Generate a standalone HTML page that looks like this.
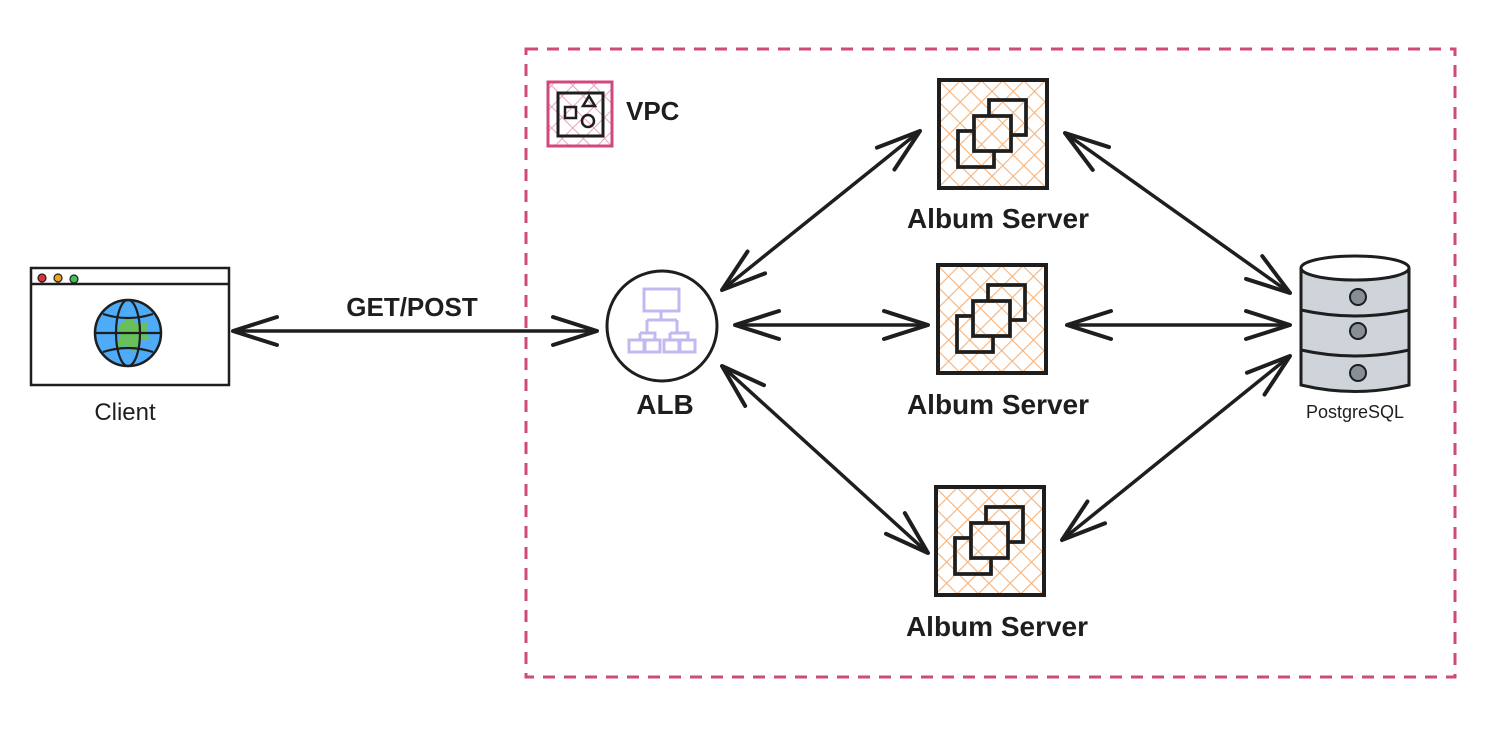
<!DOCTYPE html>
<html><head><meta charset="utf-8"><style>
html,body{margin:0;padding:0;background:#fff;width:1500px;height:730px;overflow:hidden}
text{font-family:"Liberation Sans",sans-serif;fill:#1e1e1e}
</style></head><body>
<svg width="1500" height="730" viewBox="0 0 1500 730" xmlns="http://www.w3.org/2000/svg">
<defs>
<pattern id="ho" width="15" height="15" patternUnits="userSpaceOnUse" patternTransform="rotate(45)">
<line x1="0" y1="0" x2="0" y2="15" stroke="#f5b27a" stroke-width="2.2"/>
<line x1="0" y1="0" x2="15" y2="0" stroke="#f5b27a" stroke-width="2.2"/>
</pattern>
<pattern id="hp" width="15" height="15" patternUnits="userSpaceOnUse" patternTransform="rotate(45)">
<line x1="0" y1="0" x2="0" y2="15" stroke="#e8a3bd" stroke-width="2"/>
<line x1="0" y1="0" x2="15" y2="0" stroke="#e8a3bd" stroke-width="2"/>
</pattern>
<marker id="a" markerUnits="userSpaceOnUse" markerWidth="55" markerHeight="50" refX="0" refY="0" viewBox="-50 -25 55 50" orient="auto-start-reverse">
<path d="M-44,-14 L0,0 L-44,14" fill="none" stroke="#1e1e1e" stroke-width="4" stroke-linecap="round" stroke-linejoin="round"/>
</marker>
<g id="srv">
<rect x="0" y="0" width="108" height="108" fill="#fff"/>
<rect x="0" y="0" width="108" height="108" fill="url(#ho)" stroke="#1e1e1e" stroke-width="4"/>
<rect x="50" y="20" width="37" height="35" fill="#fff" stroke="#1e1e1e" stroke-width="3.5"/>
<rect x="50" y="20" width="37" height="35" fill="url(#ho)" stroke="#1e1e1e" stroke-width="3.5"/>
<rect x="19" y="51" width="36" height="36" fill="#fff" stroke="#1e1e1e" stroke-width="3.5"/>
<rect x="19" y="51" width="36" height="36" fill="url(#ho)" stroke="#1e1e1e" stroke-width="3.5"/>
<rect x="35" y="36" width="37" height="35" fill="#fff" stroke="#1e1e1e" stroke-width="3.5"/>
<rect x="35" y="36" width="37" height="35" fill="url(#ho)" stroke="#1e1e1e" stroke-width="3.5"/>
</g>
</defs>

<rect x="526" y="49" width="929" height="628" fill="none" stroke="#d0497c" stroke-width="3" stroke-dasharray="12 9"/>

<!-- VPC icon -->
<rect x="548" y="82" width="64" height="64" fill="url(#hp)" stroke="#d0497c" stroke-width="3"/>
<rect x="558" y="93" width="45" height="43" fill="none" stroke="#1e1e1e" stroke-width="3"/>
<rect x="565" y="107" width="11" height="11" fill="none" stroke="#1e1e1e" stroke-width="2.5"/>
<path d="M589,96 L595,106 L583,106 Z" fill="none" stroke="#1e1e1e" stroke-width="2.5"/>
<circle cx="588" cy="121" r="6" fill="none" stroke="#1e1e1e" stroke-width="2.5"/>
<text x="626" y="120" font-size="26" font-weight="bold">VPC</text>

<!-- Client -->
<rect x="31" y="268" width="198" height="117" fill="#fff" stroke="#1e1e1e" stroke-width="2.5"/>
<line x1="31" y1="284" x2="229" y2="284" stroke="#1e1e1e" stroke-width="2.5"/>
<circle cx="42" cy="278" r="4" fill="#e03131" stroke="#1e1e1e" stroke-width="1.2"/>
<circle cx="58" cy="278" r="4" fill="#f0a020" stroke="#1e1e1e" stroke-width="1.2"/>
<circle cx="74" cy="279" r="4" fill="#40c057" stroke="#1e1e1e" stroke-width="1.2"/>
<circle cx="128" cy="333" r="33" fill="#4dabf7" stroke="#1e1e1e" stroke-width="2.5"/>
<path d="M122,322 L130,318 L138,324 L148,322 L146,332 L150,340 L140,340 L134,352 L126,346 L114,348 L120,338 L118,328 Z" fill="#69c05a"/>
<ellipse cx="128" cy="333" rx="12" ry="33" fill="none" stroke="#1e1e1e" stroke-width="2.2"/>
<line x1="95" y1="333" x2="161" y2="333" stroke="#1e1e1e" stroke-width="2.2"/>
<path d="M103,314 Q128,322 153,314 M103,352 Q128,344 153,352" fill="none" stroke="#1e1e1e" stroke-width="2.2"/>
<text x="125" y="420" font-size="24">
<tspan text-anchor="middle" x="125">Client</tspan></text>

<!-- ALB -->
<circle cx="662" cy="326" r="55" fill="#fff" stroke="#1e1e1e" stroke-width="3"/>
<g fill="none" stroke="#c4b8f0" stroke-width="3">
<rect x="644" y="289" width="35" height="22"/>
<path d="M661,311 V320 M647,320 H677 M647,320 V332 M677,320 V332"/>
<rect x="629" y="340" width="15" height="12"/><rect x="645" y="340" width="15" height="12"/>
<rect x="664" y="340" width="15" height="12"/><rect x="680" y="340" width="15" height="12"/>
<path d="M640,333 H655 V340 M640,333 V340 M670,333 H688 V340 M670,333 V340"/>
</g>
<text x="665" y="414" font-size="28" text-anchor="middle" font-weight="bold">ALB</text>

<!-- Servers -->
<use href="#srv" x="939" y="80"/>
<use href="#srv" x="938" y="265"/>
<use href="#srv" x="936" y="487"/>
<text x="998" y="228" font-size="28" text-anchor="middle" font-weight="bold">Album Server</text>
<text x="998" y="414" font-size="28" text-anchor="middle" font-weight="bold">Album Server</text>
<text x="997" y="636" font-size="28" text-anchor="middle" font-weight="bold">Album Server</text>

<!-- DB -->
<path d="M1301,268 V385 Q1355,398 1409,385 V268" fill="#ced4da" stroke="#1e1e1e" stroke-width="3"/>
<path d="M1301,310 Q1355,322 1409,310 M1301,350 Q1355,362 1409,350" fill="none" stroke="#1e1e1e" stroke-width="3"/>
<ellipse cx="1355" cy="268" rx="54" ry="12" fill="#fff" stroke="#1e1e1e" stroke-width="3"/>
<circle cx="1358" cy="297" r="8" fill="#868e96" stroke="#1e1e1e" stroke-width="2"/>
<circle cx="1358" cy="331" r="8" fill="#868e96" stroke="#1e1e1e" stroke-width="2"/>
<circle cx="1358" cy="373" r="8" fill="#868e96" stroke="#1e1e1e" stroke-width="2"/>
<text x="1355" y="418" font-size="18" text-anchor="middle">PostgreSQL</text>

<!-- Arrows -->
<g stroke="#1e1e1e" stroke-width="3.5" fill="none" marker-start="url(#a)" marker-end="url(#a)">
<line x1="233" y1="331" x2="597" y2="331"/>
<line x1="722" y1="290" x2="920" y2="131"/>
<line x1="735" y1="325" x2="928" y2="325"/>
<line x1="722" y1="366" x2="928" y2="553"/>
<line x1="1065" y1="133" x2="1290" y2="293"/>
<line x1="1067" y1="325" x2="1290" y2="325"/>
<line x1="1062" y1="540" x2="1290" y2="356"/>
</g>
<text x="412" y="316" font-size="26" text-anchor="middle" font-weight="bold">GET/POST</text>
</svg>
</body></html>
